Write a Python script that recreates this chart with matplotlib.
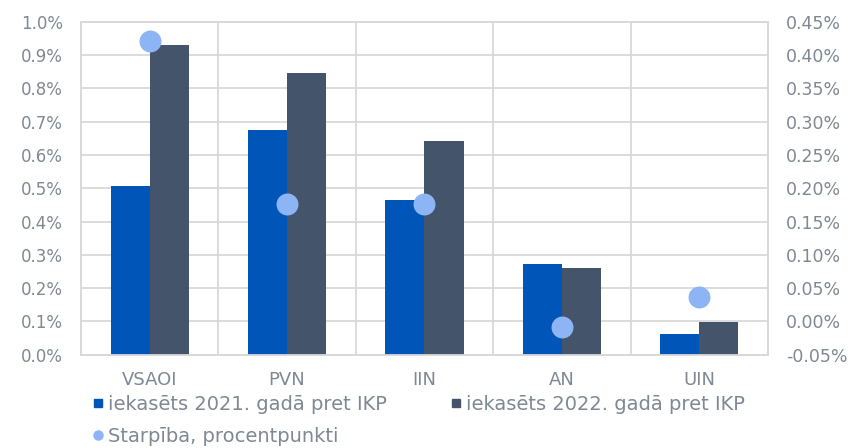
import numpy as np
import matplotlib.pyplot as plt
from matplotlib.ticker import FuncFormatter, MultipleLocator, FixedLocator
from matplotlib.lines import Line2D

categories = ['VSAOI', 'PVN', 'IIN', 'AN', 'UIN']
share_2021 = [0.508, 0.675, 0.465, 0.271, 0.063]
share_2022 = [0.931, 0.848, 0.642, 0.261, 0.099]
diff_pp = [0.422, 0.176, 0.177, -0.009, 0.037]

c_2021 = '#0055b8'
c_2022 = '#44546a'
c_diff = '#8db4f5'
grid_c = '#d9d9d9'
txt_c = '#7f8893'

fig = plt.figure(figsize=(8.67, 4.48), dpi=100)
ax = fig.add_axes([0.0934, 0.2087, 0.7924, 0.7422])
ax2 = ax.twinx()

x = np.arange(len(categories))
w = 0.285
ax.bar(x - w / 2, share_2021, w, color=c_2021, zorder=3)
ax.bar(x + w / 2, share_2022, w, color=c_2022, zorder=3)
ax2.scatter(x, diff_pp, s=250, color=c_diff, zorder=4, linewidths=0)

ax.set_xlim(-0.5, len(categories) - 0.5)
ax.set_ylim(0, 1.0)
ax2.set_ylim(-0.05, 0.45)
ax.yaxis.set_major_locator(MultipleLocator(0.1))
ax2.yaxis.set_major_locator(MultipleLocator(0.05))
ax.yaxis.set_major_formatter(FuncFormatter(lambda v, p: f'{v:.1f}%'))
ax2.yaxis.set_major_formatter(FuncFormatter(lambda v, p: f'{v:.2f}%'))

ax.set_xticks(x)
ax.set_xticklabels(categories, fontsize=13)
ax.xaxis.set_minor_locator(FixedLocator(np.arange(-0.5, len(categories), 1.0)))
ax.grid(axis='y', color=grid_c, lw=1.3, zorder=0)
ax.grid(axis='x', which='minor', color=grid_c, lw=1.3, zorder=0)
ax.tick_params(axis='both', which='both', length=0, colors=txt_c)
ax.tick_params(axis='y', pad=13, labelsize=12)
ax.tick_params(axis='x', pad=12)
ax2.tick_params(axis='y', length=0, colors=txt_c, labelsize=12.5, pad=13)
for a in (ax, ax2):
    for s in a.spines.values():
        s.set_color(grid_c)
        s.set_linewidth(1.3)

h1 = Line2D([], [], marker='s', ls='', color=c_2021, markersize=5.5)
h2 = Line2D([], [], marker='s', ls='', color=c_2022, markersize=5.5)
h3 = Line2D([], [], marker='o', ls='', color=c_diff, markersize=6.5)
leg = fig.legend([h1, h3, h2],
                 ['iekasēts 2021. gadā pret IKP', 'Starpība, procentpunkti',
                  'iekasēts 2022. gadā pret IKP'],
                 ncol=2, loc='lower left', bbox_to_anchor=(0.09, -0.03),
                 frameon=False, handlelength=0.5, handletextpad=0.25,
                 columnspacing=3.3, labelspacing=0.65,
                 borderpad=0.3, prop={'size': 14})
for t in leg.get_texts():
    t.set_color(txt_c)

fig.savefig('out.png', dpi=100)
